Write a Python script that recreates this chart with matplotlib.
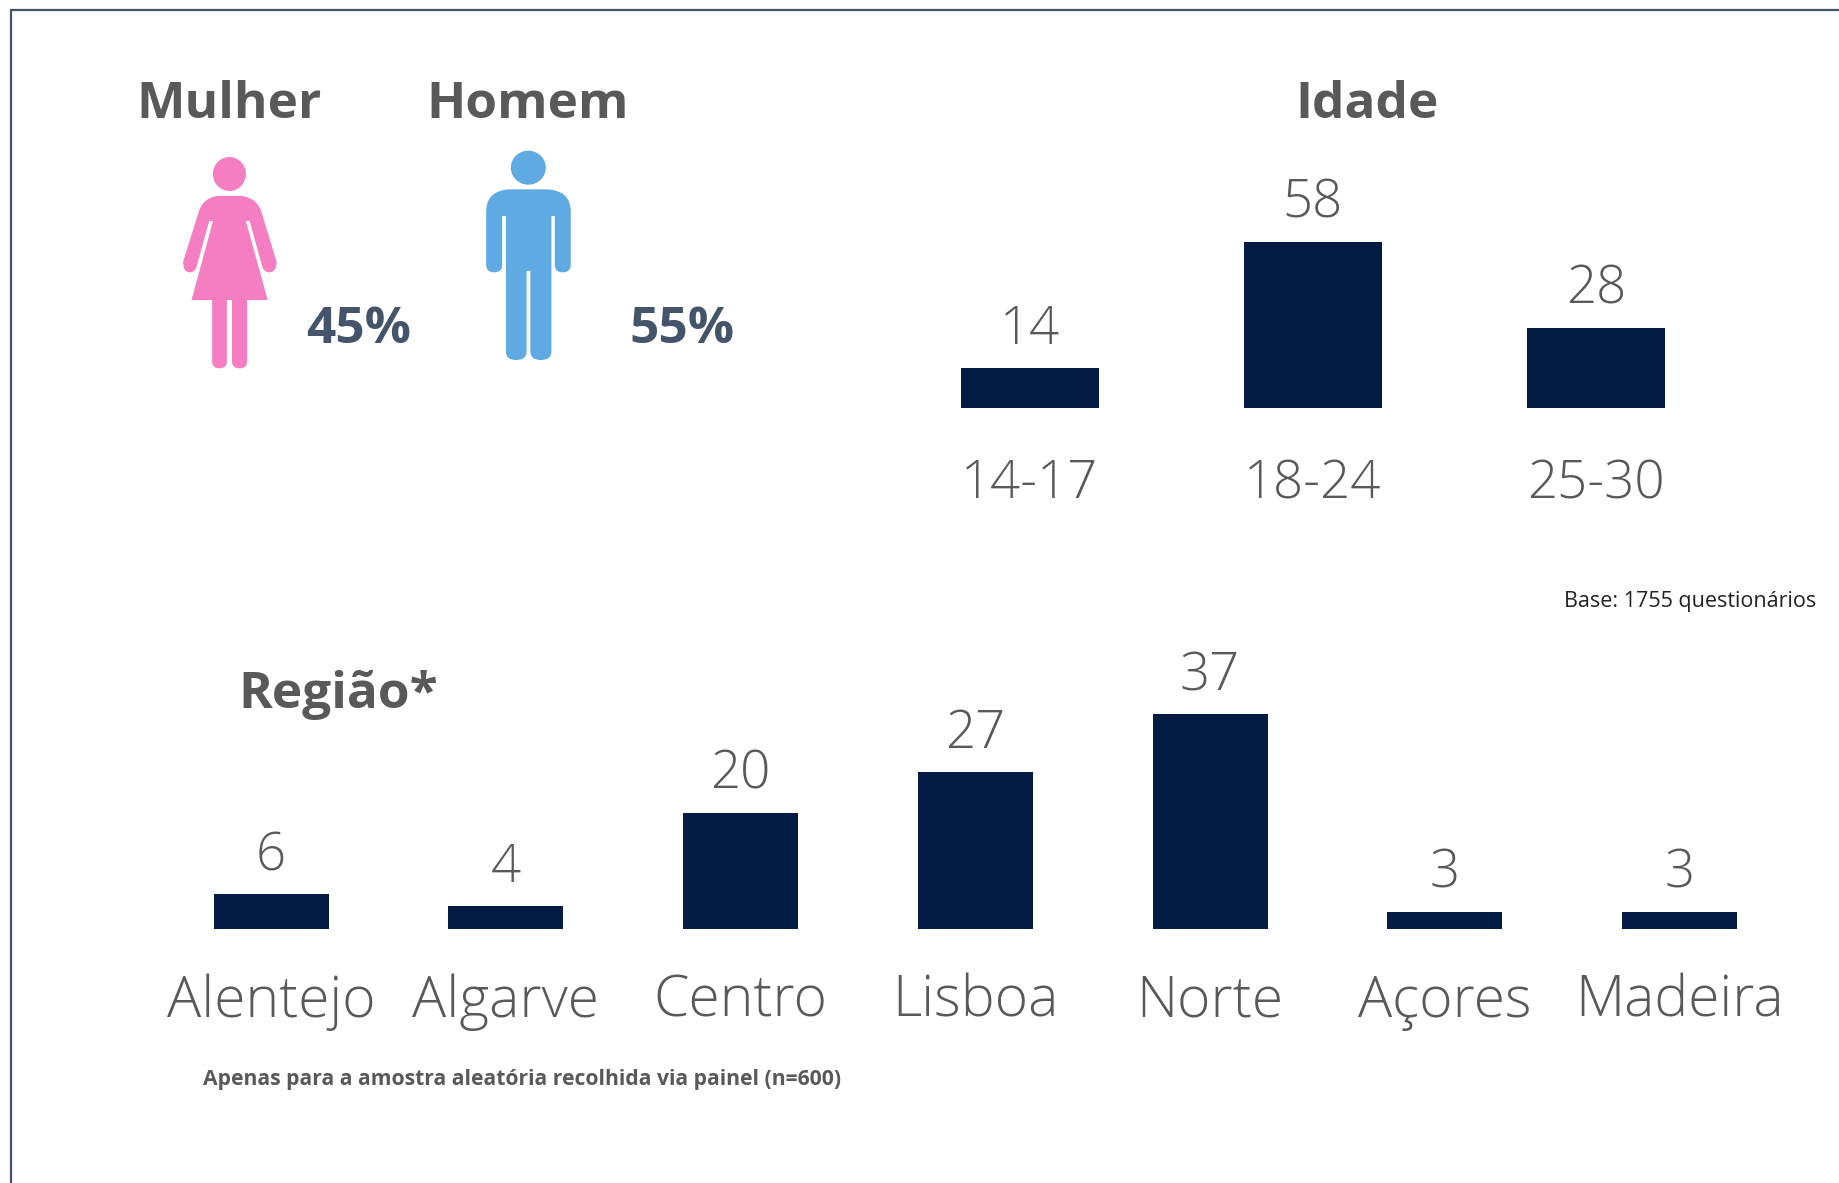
#!/usr/bin/env python3

import matplotlib

matplotlib.use("Agg")

import matplotlib.pyplot as plt
from matplotlib.patches import Ellipse, PathPatch
from matplotlib.path import Path

W, H = 1840, 1183

age_labels = ["14-17", "18-24", "25-30"]
age_values = [14, 58, 28]

region_labels = ["Alentejo", "Algarve", "Centro", "Lisboa", "Norte", "Açores", "Madeira"]
region_values = [6, 4, 20, 27, 37, 3, 3]

gender_labels = ["Mulher", "Homem"]
gender_pct = ["45%", "55%"]

NAVY = "#041C43"
GRAY = "#595959"
SLATE = "#44546A"
PINK = "#F57EC3"
BLUE = "#5FAAE3"

plt.rcParams["font.family"] = ["Open Sans", "DejaVu Sans"]


def px_axes(fig, left, top, right, bottom):
    # axes placed using pixel coords of the reference (y down)
    return fig.add_axes([left / W, 1 - bottom / H, (right - left) / W, (bottom - top) / H])


def icon_path(segments):
    verts, codes = [], []
    for code, pts in segments:
        for x, y in pts:
            verts.append((x / 2.376 + 120, y / 3 + 50))
            codes.append(code)
    verts.append(verts[0])
    codes.append(Path.CLOSEPOLY)
    return Path(verts, codes)


def draw_bars(ax, labels, values, width, ymax, pad, tick_pad, tick_size):
    pos = range(len(values))
    bars = ax.bar(pos, values, width=width, color=NAVY)
    ax.bar_label(bars, padding=pad, fontsize=38, color=GRAY, fontweight=300)
    ax.set_xticks(list(pos))
    ax.set_xticklabels(labels, fontsize=tick_size, color=GRAY, fontweight=300)
    ax.tick_params(axis="x", length=0, pad=tick_pad)
    ax.set_yticks([])
    ax.set_xlim(-0.5, len(values) - 0.5)
    ax.set_ylim(0, ymax)
    ax.patch.set_alpha(0)
    for s in ax.spines.values():
        s.set_visible(False)


def main():
    fig = plt.figure(figsize=(W / 100, H / 100), dpi=100, facecolor="white")

    # pixel overlay for the frame, icons and free text
    bg = fig.add_axes([0, 0, 1, 1])
    bg.set_xlim(0, W)
    bg.set_ylim(H, 0)
    bg.axis("off")

    bg.plot([11, 11, W], [H, 10, 10], color=SLATE, lw=1.6, solid_joinstyle="miter")

    L, C, Q = Path.LINETO, Path.CURVE3, Path.MOVETO
    woman = icon_path([
        (Q, [(230, 438)]), (L, [(290, 438)]),
        (C, [(328, 445), (337, 490)]), (L, [(372, 635)]),
        (C, [(372, 667), (355, 667)]), (C, [(342, 667), (338, 650)]),
        (L, [(308, 513), (299, 513), (351, 750), (302, 750), (302, 935)]),
        (C, [(302, 955), (285, 955)]), (C, [(266, 955), (266, 935)]),
        (L, [(266, 750), (254, 750), (254, 935)]),
        (C, [(254, 955), (236, 955)]), (C, [(219, 955), (219, 935)]),
        (L, [(219, 750), (170, 750), (221, 513), (212, 513), (182, 650)]),
        (C, [(178, 667), (165, 667)]), (C, [(150, 667), (150, 635)]),
        (L, [(186, 490)]), (C, [(195, 445), (230, 438)]),
    ])
    man = icon_path([
        (Q, [(925, 418)]), (L, [(1015, 418)]),
        (C, [(1071, 422), (1071, 485)]), (L, [(1071, 645)]),
        (C, [(1071, 667), (1052, 667)]), (C, [(1033, 667), (1033, 645)]),
        (L, [(1033, 498), (1025, 498), (1025, 905)]),
        (C, [(1025, 930), (1000, 930)]), (C, [(975, 930), (975, 905)]),
        (L, [(975, 663), (966, 663), (966, 905)]),
        (C, [(966, 930), (941, 930)]), (C, [(917, 930), (917, 905)]),
        (L, [(917, 498), (908, 498), (908, 645)]),
        (C, [(908, 667), (889, 667)]), (C, [(870, 667), (870, 645)]),
        (L, [(870, 485)]), (C, [(870, 422), (925, 418)]),
    ])
    bg.add_patch(PathPatch(woman, fc=PINK, ec="none"))
    bg.add_patch(PathPatch(man, fc=BLUE, ec="none"))
    bg.add_patch(Ellipse((229.4, 174), 33, 34, fc=PINK, ec="none"))
    bg.add_patch(Ellipse((528.3, 167.7), 35, 34, fc=BLUE, ec="none"))

    head = dict(fontsize=37, fontweight="bold", color=GRAY, ha="center", va="center")
    bg.text(229, 105, gender_labels[0], **head)
    bg.text(528, 105, gender_labels[1], **head)
    bg.text(1367, 105, "Idade", **head)
    bg.text(338, 695, "Região*", **head)

    pct = dict(fontsize=37, fontweight="bold", color=SLATE, ha="center", va="center")
    bg.text(359, 330, gender_pct[0], **pct)
    bg.text(682, 330, gender_pct[1], **pct)

    bg.text(1816, 601, "Base: 1755 questionários", fontsize=15.5, color="#222222", ha="right", va="center")
    bg.text(203, 1079, "Apenas para a amostra aleatória recolhida via painel (n=600)",
            fontsize=15.2, fontweight="bold", color=GRAY, ha="left", va="center")

    ax_age = px_axes(fig, 888, 236, 1738, 408)
    draw_bars(ax_age, age_labels, age_values, 0.487, 60, 8, 36, 38)

    ax_region = px_axes(fig, 153.7, 697, 1797, 929)
    draw_bars(ax_region, region_labels, region_values, 0.49, 40, 8, 32, 41)

    plt.savefig("out.png", dpi=100)


if __name__ == "__main__":
    main()
